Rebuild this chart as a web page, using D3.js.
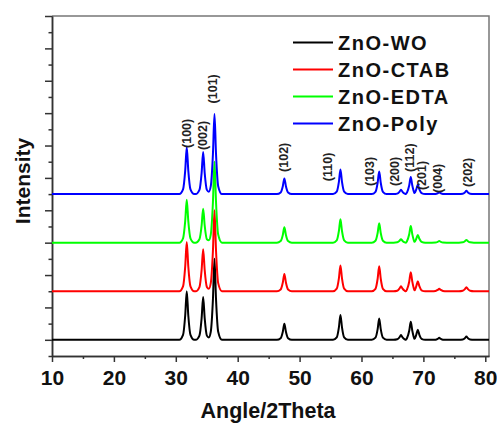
<!DOCTYPE html>
<html>
<head>
<meta charset="utf-8">
<script src="https://cdn.jsdelivr.net/npm/d3@7"></script>
<style>
   body { margin: 0; background: #fff; }
   svg { display: block; font-family: "Liberation Sans", Arial, sans-serif; }
</style>
</head>
<body>
<div class="chart"></div>
<script>
// data: 2theta grid shared by every pattern
const twoTheta = [10,
   30.57, 31.17, 31.52, 31.77, 32.02, 32.37, 32.97,
   33.22, 33.82, 34.17, 34.42, 34.67, 35.02,
   35.33,
   35.65, 36.0, 36.25, 36.5, 36.85, 37.45,
   46.34, 46.94, 47.29, 47.54, 47.79, 48.14, 48.74,
   55.4, 56.0, 56.35, 56.6, 56.85, 57.2, 57.8,
   61.66, 62.26, 62.61, 62.86, 63.11, 63.46, 64.06,
   65.18, 65.78, 66.13, 66.38, 66.63, 66.98,
   67.17,
   67.36, 67.71, 67.96, 68.21, 68.5,
   68.58, 68.85, 69.1, 69.35, 69.7, 70.3,
   71.36, 71.96, 72.31, 72.56, 72.81, 73.16, 73.76,
   75.75, 76.35, 76.7, 76.95, 77.2, 77.55, 78.15,
   80.6];

// intensities (a.u.), one per 2theta point
const woCounts = [0,
   0, 0.3, 1.5, 3.0, 1.5, 0.3, 0,
   0, 0.26, 1.32, 2.64, 1.32, 0.26,
   0.15,
   0.5, 2.5, 5.0, 2.5, 0.5, 0,
   0, 0.1, 0.5, 0.99, 0.5, 0.1, 0,
   0, 0.15, 0.77, 1.54, 0.77, 0.15, 0,
   0, 0.13, 0.66, 1.32, 0.66, 0.13, 0,
   0, 0.03, 0.15, 0.29, 0.15, 0.03,
   0,
   0.11, 0.56, 1.11, 0.56, 0.11,
   0.06, 0.31, 0.62, 0.31, 0.06, 0,
   0, 0.01, 0.06, 0.12, 0.06, 0.01, 0,
   0, 0.02, 0.1, 0.2, 0.1, 0.02, 0,
   0];

const ctabCounts = [0,
   0, 0.3, 1.52, 3.04, 1.52, 0.3, 0,
   0, 0.26, 1.3, 2.6, 1.3, 0.26,
   0.15,
   0.5, 2.5, 5.0, 2.5, 0.5, 0,
   0, 0.11, 0.54, 1.07, 0.54, 0.11, 0,
   0, 0.16, 0.8, 1.59, 0.8, 0.16, 0,
   0, 0.15, 0.77, 1.54, 0.77, 0.15, 0,
   0, 0.03, 0.16, 0.31, 0.16, 0.03,
   0,
   0.12, 0.59, 1.17, 0.59, 0.12,
   0.06, 0.31, 0.62, 0.31, 0.06, 0,
   0, 0.02, 0.08, 0.15, 0.08, 0.02, 0,
   0, 0.03, 0.13, 0.25, 0.13, 0.03, 0,
   0];

const edtaCounts = [0,
   0, 0.27, 1.33, 2.65, 1.33, 0.27, 0,
   0, 0.21, 1.05, 2.1, 1.05, 0.21,
   0.15,
   0.5, 2.5, 5.0, 2.5, 0.5, 0,
   0, 0.1, 0.48, 0.95, 0.48, 0.1, 0,
   0, 0.14, 0.72, 1.44, 0.72, 0.14, 0,
   0, 0.12, 0.6, 1.2, 0.6, 0.12, 0,
   0, 0.02, 0.11, 0.21, 0.11, 0.02,
   0,
   0.1, 0.52, 1.03, 0.52, 0.1,
   0.05, 0.24, 0.47, 0.24, 0.05, 0,
   0, 0.01, 0.05, 0.1, 0.05, 0.01, 0,
   0, 0.02, 0.09, 0.17, 0.09, 0.02, 0,
   0];

const polyCounts = [0,
   0, 0.29, 1.45, 2.9, 1.45, 0.29, 0,
   0, 0.26, 1.3, 2.6, 1.3, 0.26,
   0.15,
   0.49, 2.47, 4.94, 2.47, 0.49, 0,
   0, 0.1, 0.49, 0.97, 0.49, 0.1, 0,
   0, 0.15, 0.76, 1.52, 0.76, 0.15, 0,
   0, 0.14, 0.7, 1.4, 0.7, 0.14, 0,
   0, 0.03, 0.14, 0.27, 0.14, 0.03,
   0,
   0.11, 0.53, 1.05, 0.53, 0.11,
   0.06, 0.29, 0.57, 0.29, 0.06, 0,
   0, 0.01, 0.05, 0.1, 0.05, 0.01, 0,
   0, 0.02, 0.1, 0.2, 0.1, 0.02, 0,
   0];

const seriesNames = ["ZnO-WO", "ZnO-CTAB", "ZnO-EDTA", "ZnO-Poly"];
const seriesCounts = [woCounts, ctabCounts, edtaCounts, polyCounts];
const seriesOffsets = [1, 4, 7, 10];
const seriesColors = ["#000000", "#ff0000", "#00ff00", "#0000ff"];

// hkl labels: text, 2theta of label, intensity where the label starts
const peakLabels = ["(100)", "(002)", "(101)", "(102)", "(110)", "(103)", "(200)", "(112)", "(201)", "(004)", "(202)"];
const peakLabelX = [31.76, 34.4, 36.0, 47.5, 54.6, 61.3, 65.4, 67.8, 69.7, 72.3, 77.2];
const peakLabelY = [12.85, 12.72, 15.6, 11.37, 10.8, 10.5, 10.5, 11.37, 10.25, 10.07, 10.44];

const xMajor = [10, 20, 30, 40, 50, 60, 70, 80];
const xMinor = [15, 25, 35, 45, 55, 65, 75];

// setup chart
const width = 497;
const height = 424;
const svg = d3.select(".chart").append("svg").attr("width", width).attr("height", height);

const x = d3.scaleLinear().domain([10, 80.6]).range([52, 489]);
const y = d3.scaleLinear().domain([0, 21]).range([356, 16]);

const yMajor = d3.range(1, 22, 2);
const yMinor = d3.range(0, 22, 2);

// frame (top + right)
svg.append("path")
   .attr("d", `M${x.range()[0]},${y.range()[1]}H${x.range()[1]}V${y.range()[0]}`)
   .attr("fill", "none")
   .attr("stroke", "#777")
   .attr("stroke-width", 1.5);

// x axis
svg.append("g").attr("transform", `translate(0,${y.range()[0]})`)
   .call(d3.axisBottom(x).tickValues(xMinor).tickSize(3).tickSizeOuter(0).tickFormat(""));
const xAxis = svg.append("g").attr("transform", `translate(0,${y.range()[0]})`)
   .call(d3.axisBottom(x).tickValues(xMajor).tickSize(6).tickSizeOuter(0).tickPadding(8).tickFormat(d3.format("d")));
xAxis.selectAll("text")
   .attr("fill", "#111")
   .style("font-size", "21px")
   .style("font-weight", "bold");

// y axis
svg.append("g").attr("transform", `translate(${x.range()[0]},0)`)
   .call(d3.axisLeft(y).tickValues(yMinor).tickSize(3.5).tickSizeOuter(0).tickFormat(""));
svg.append("g").attr("transform", `translate(${x.range()[0]},0)`)
   .call(d3.axisLeft(y).tickValues(yMajor).tickSize(7).tickSizeOuter(0).tickFormat(""));

svg.selectAll(".domain, .tick line").attr("stroke", "#333").attr("stroke-width", 1.5);

// patterns, black first so blue sits on top
const line = d3.line().curve(d3.curveMonotoneX);
seriesCounts.forEach((counts, s) => {
   svg.append("path")
      .attr("class", "pattern")
      .attr("d", line(counts.map((c, i) => [x(twoTheta[i]), y(c + seriesOffsets[s])])))
      .attr("fill", "none")
      .attr("stroke", seriesColors[s])
      .attr("stroke-width", 2)
      .attr("stroke-linejoin", "round");
});

// hkl labels
svg.selectAll(".hkl")
   .data(peakLabels)
   .enter()
   .append("text")
   .attr("class", "hkl")
   .attr("transform", (d, i) => `translate(${x(peakLabelX[i])},${y(peakLabelY[i])}) rotate(-90)`)
   .attr("dominant-baseline", "central")
   .style("font-size", "12.5px")
   .style("font-weight", "bold")
   .attr("fill", "#222")
   .text((d) => d);

// legend
const legend = svg.append("g").attr("transform", "translate(293,42.5)");
const legendRow = legend.selectAll("g")
   .data(seriesNames)
   .enter()
   .append("g")
   .attr("transform", (d, i) => `translate(0,${i * 27})`);
legendRow.append("line")
   .attr("x1", 0)
   .attr("x2", 40)
   .attr("stroke", (d, i) => seriesColors[i])
   .attr("stroke-width", 2);
legendRow.append("text")
   .attr("x", 45)
   .attr("y", 7)
   .style("font-size", "20px")
   .style("font-weight", "bold")
   .style("letter-spacing", "1.5px")
   .attr("fill", "#111")
   .text((d) => d);

// axis titles
svg.append("text")
   .attr("x", 268)
   .attr("y", 418)
   .attr("text-anchor", "middle")
   .style("font-size", "21.5px")
   .style("font-weight", "bold")
   .attr("fill", "#111")
   .text("Angle/2Theta");

svg.append("text")
   .attr("transform", "translate(30,181) rotate(-90)")
   .attr("text-anchor", "middle")
   .style("font-size", "21px")
   .style("font-weight", "bold")
   .attr("fill", "#111")
   .text("Intensity");
</script>
</body>
</html>
